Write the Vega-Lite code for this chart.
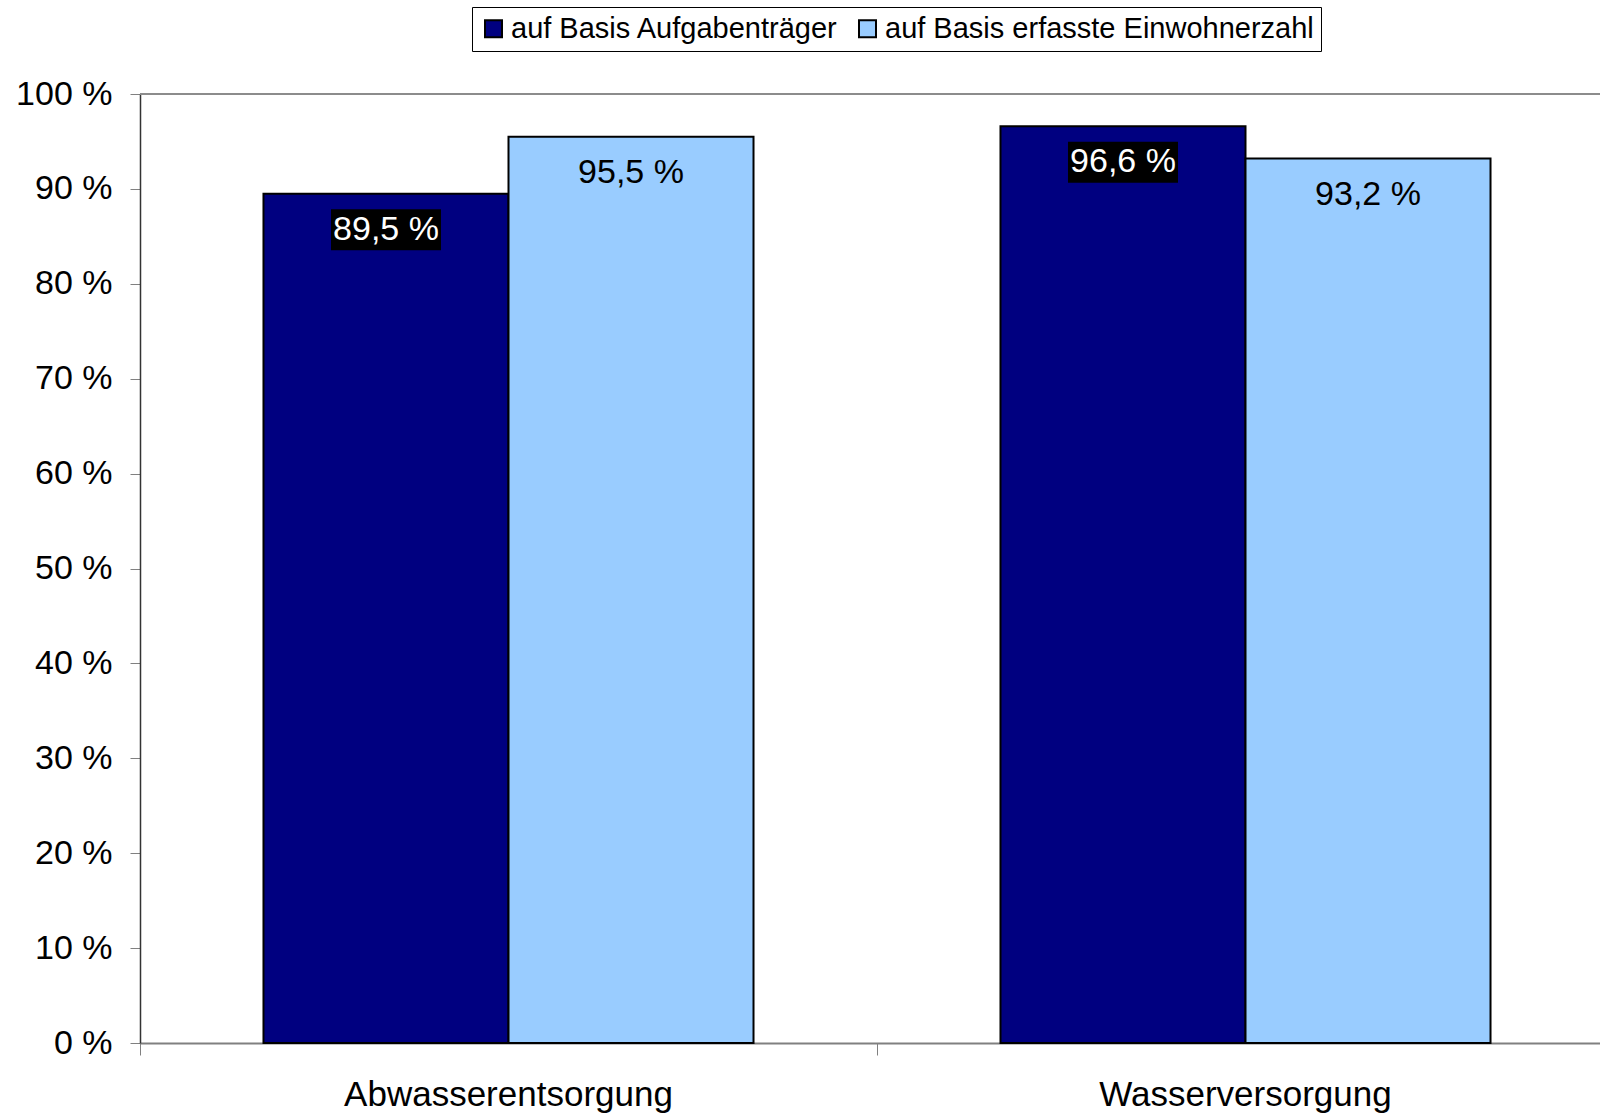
{
  "$schema": "https://vega.github.io/schema/vega-lite/v6.json",
  "autosize": {"type": "none"},
  "width": 1474,
  "height": 949,
  "padding": {"left": 140, "top": 94, "right": 0, "bottom": 70},
  "background": "white",
  "config": {
    "view": {"stroke": null},
    "font": "Liberation Sans",
    "axis": {"labelFont": "Liberation Sans", "labelColor": "black", "grid": false, "title": null}
  },
  "data": {
    "values": [
      {"category": "Abwasserentsorgung", "series": "auf Basis Aufgabenträger", "value": 89.5},
      {"category": "Abwasserentsorgung", "series": "auf Basis erfasste Einwohnerzahl", "value": 95.5},
      {"category": "Wasserversorgung", "series": "auf Basis Aufgabenträger", "value": 96.6},
      {"category": "Wasserversorgung", "series": "auf Basis erfasste Einwohnerzahl", "value": 93.2}
    ]
  },
  "transform": [
    {"calculate": "replace(format(datum.value, '.1f'), '.', ',') + ' %'", "as": "label"}
  ],
  "encoding": {
    "x": {
      "field": "category", "type": "nominal", "sort": null,
      "scale": {"paddingInner": 0, "paddingOuter": 0},
      "axis": {
        "bandPosition": 0, "labelAngle": 0, "labelAlign": "center", "labelLimit": 0,
        "labelFontSize": 35, "labelPadding": 22, "tickSize": 12, "tickColor": "#808080",
        "domainColor": "#808080", "domainWidth": 2, "tickWidth": 1
      }
    },
    "xOffset": {
      "field": "series", "type": "nominal",
      "sort": ["auf Basis Aufgabenträger", "auf Basis erfasste Einwohnerzahl"],
      "scale": {"paddingInner": 0, "paddingOuter": 0.504}
    },
    "y": {
      "field": "value", "type": "quantitative",
      "scale": {"domain": [0, 100], "nice": false},
      "axis": {
        "values": [0, 10, 20, 30, 40, 50, 60, 70, 80, 90, 100],
        "labelExpr": "datum.value + ' %'",
        "labelFontSize": 34, "labelPadding": 18, "tickSize": 10,
        "tickColor": "#808080", "domainColor": "#333333", "domainWidth": 1.5
      }
    }
  },
  "layer": [
    {
      "mark": {"type": "rule", "color": "#8c8c8c", "strokeWidth": 2},
      "encoding": {"y": {"datum": 100}, "x": null, "xOffset": null}
    },
    {
      "mark": {"type": "bar", "stroke": "black", "strokeWidth": 2},
      "encoding": {
        "color": {
          "field": "series", "type": "nominal",
          "scale": {"domain": ["auf Basis Aufgabenträger", "auf Basis erfasste Einwohnerzahl"], "range": ["#000080", "#99CCFF"]},
          "legend": {
            "title": null, "orient": "none", "legendX": 332, "legendY": -87,
            "direction": "horizontal", "strokeColor": "black", "fillColor": "white",
            "padding": 7, "labelFontSize": 29, "labelFont": "Liberation Sans", "labelColor": "black",
            "labelLimit": 0,
            "symbolType": "square", "symbolSize": 289, "symbolStrokeColor": "black",
            "symbolStrokeWidth": 2, "columnPadding": 14, "labelOffset": 3
          }
        }
      }
    },
    {
      "transform": [{"filter": "datum.series === 'auf Basis Aufgabenträger'"}],
      "mark": {
        "type": "point", "filled": true, "opacity": 1, "color": "black", "strokeWidth": 0,
        "shape": "M-1,-0.373H1V0.373H-1Z", "size": 12100, "yOffset": 36
      }
    },
    {
      "mark": {"type": "text", "fontSize": 34, "baseline": "middle", "align": "center", "yOffset": 36},
      "encoding": {
        "text": {"field": "label"},
        "color": {"condition": {"test": "datum.series === 'auf Basis Aufgabenträger'", "value": "white"}, "value": "black"}
      }
    }
  ]
}
